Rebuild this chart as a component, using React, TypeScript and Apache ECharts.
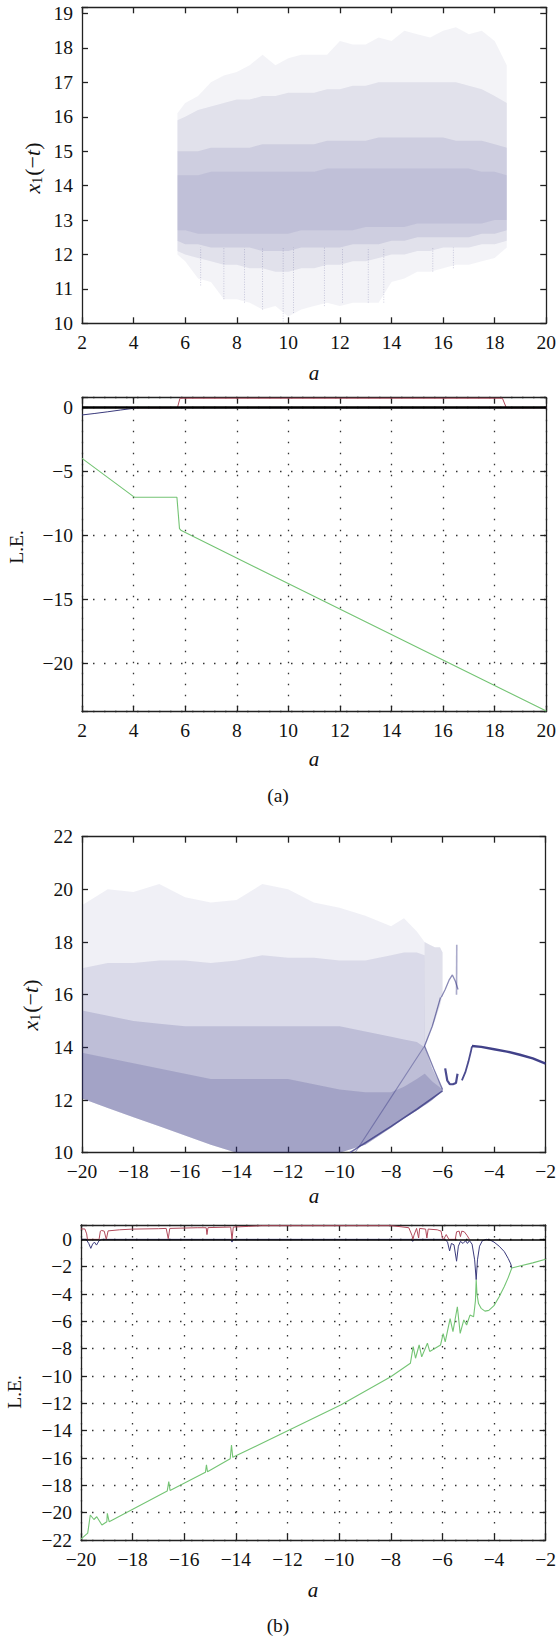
import React, { useEffect, useRef } from "react";
import * as echarts from "echarts";

const FONT = "'Liberation Serif', 'DejaVu Serif', serif";
const RED = "#b04a5c";
const BLUE = "#3a3a7c";
const GREEN = "#74c474";

// ---------- Panel (a) top: bifurcation cloud, a in [2,20] ----------
const bifA_a = [5.7, 6.0, 6.5, 7.0, 7.5, 8.0, 8.5, 9.0, 9.5, 10.0, 10.5, 11.0, 11.5, 12.0, 12.5, 13.0, 13.5, 14.0, 14.5, 15.0, 15.5, 16.0, 16.5, 17.0, 17.5, 18.0, 18.47];
const bifA_lower = [12.0, 11.8, 11.3, 11.2, 10.7, 10.7, 10.6, 10.4, 10.5, 10.2, 10.4, 10.5, 10.6, 10.5, 10.6, 10.6, 10.6, 11.2, 11.3, 11.5, 11.5, 11.6, 11.7, 11.7, 11.8, 11.9, 12.2];
const bifA_upper = [16.1, 16.4, 16.6, 17.0, 17.2, 17.3, 17.5, 17.8, 17.5, 17.7, 17.8, 17.8, 17.8, 18.2, 18.1, 18.1, 18.3, 18.2, 18.5, 18.4, 18.3, 18.5, 18.6, 18.4, 18.5, 18.2, 17.5];
const bifA_modLow = [12.1, 12.0, 11.9, 11.8, 11.7, 11.7, 11.6, 11.6, 11.5, 11.5, 11.6, 11.6, 11.7, 11.7, 11.8, 11.8, 11.9, 12.0, 12.0, 12.1, 12.1, 12.2, 12.2, 12.2, 12.3, 12.3, 12.4];
const bifA_modHigh = [15.9, 16.0, 16.2, 16.3, 16.4, 16.5, 16.5, 16.6, 16.6, 16.7, 16.7, 16.7, 16.8, 16.8, 16.9, 16.9, 17.0, 17.0, 17.0, 17.0, 17.0, 17.0, 17.0, 16.9, 16.8, 16.6, 16.4];
const bifA_denseLow = [12.4, 12.3, 12.3, 12.2, 12.2, 12.2, 12.2, 12.1, 12.1, 12.1, 12.2, 12.2, 12.2, 12.2, 12.3, 12.3, 12.3, 12.4, 12.4, 12.5, 12.5, 12.5, 12.5, 12.5, 12.6, 12.6, 12.7];
const bifA_denseHigh = [15.0, 15.0, 15.0, 15.1, 15.1, 15.1, 15.1, 15.2, 15.2, 15.2, 15.2, 15.2, 15.3, 15.3, 15.3, 15.3, 15.4, 15.4, 15.4, 15.4, 15.4, 15.4, 15.3, 15.3, 15.3, 15.2, 15.1];
const bifA_coreLow = [12.7, 12.7, 12.6, 12.6, 12.6, 12.6, 12.6, 12.6, 12.6, 12.6, 12.7, 12.7, 12.7, 12.7, 12.7, 12.8, 12.8, 12.8, 12.8, 12.9, 12.9, 12.9, 12.9, 12.9, 12.9, 13.0, 13.0];
const bifA_coreHigh = [14.3, 14.3, 14.3, 14.4, 14.4, 14.4, 14.4, 14.4, 14.4, 14.4, 14.4, 14.4, 14.5, 14.5, 14.5, 14.5, 14.5, 14.5, 14.5, 14.5, 14.5, 14.5, 14.5, 14.5, 14.4, 14.4, 14.3];
// vertical streaks below the cloud: a position, lowest value
const streakA_a = [6.6, 7.5, 8.3, 9.0, 9.8, 10.2, 11.4, 12.1, 13.1, 13.7, 15.6, 16.4];
const streakA_lo = [11.1, 10.7, 10.6, 10.4, 10.05, 10.3, 10.5, 10.6, 10.6, 10.6, 11.5, 11.6];

// ---------- Panel (a) bottom: Lyapunov exponents ----------
const leA_blue_a = [2, 2.5, 3, 3.5, 4, 4.1, 20];
const leA_blue = [-0.57, -0.45, -0.32, -0.18, -0.05, 0, 0];
const leA_red_a = [4, 5.7, 5.8, 18.3, 18.45, 20];
const leA_red = [0, 0, 0.74, 0.74, 0, 0];
const leA_green_a = [2, 4, 4.05, 5.68, 5.78, 5.85, 20];
const leA_green = [-3.96, -6.95, -7.0, -7.0, -9.45, -9.6, -23.7];

// ---------- Panel (b) top: bifurcation cloud, a in [-20,-2] ----------
const bifB_a = [-20, -19, -18, -17, -16, -15, -14, -13, -12, -11, -10, -9, -8, -7.5, -7, -6.7, -6.69, -6.4, -6.0];
const bifB_lower = [12.06, 11.7, 11.35, 11.0, 10.65, 10.3, 10.0, 10.0, 10.0, 10.0, 10.0, 10.3, 10.95, 11.3, 11.6, 11.8, 11.8, 12.0, 12.35];
const bifB_upper = [19.4, 20.0, 19.9, 20.2, 19.7, 19.5, 19.6, 20.2, 20.0, 19.5, 19.3, 19.0, 18.6, 18.9, 18.4, 18.0, 14.0, 13.2, 12.4];
const bifB_mod = [17.0, 17.2, 17.2, 17.3, 17.3, 17.2, 17.3, 17.5, 17.4, 17.4, 17.3, 17.3, 17.5, 17.6, 17.6, 17.5, 14.0, 13.2, 12.4];
const bifB_dense = [15.4, 15.2, 15.0, 14.9, 14.8, 14.8, 14.8, 14.8, 14.8, 14.8, 14.8, 14.6, 14.4, 14.3, 14.2, 14.0, 14.0, 13.2, 12.4];
const bifB_core = [13.8, 13.6, 13.4, 13.2, 13.0, 12.8, 12.8, 12.8, 12.8, 12.6, 12.4, 12.3, 12.3, 12.5, 12.8, 13.0, 13.0, 12.7, 12.4];
const lobe_a = [-6.7, -6.5, -6.3, -6.1, -6.0];
const lobe_low = [14.0, 14.6, 15.0, 15.6, 16.0];
const lobe_high = [18.0, 17.9, 17.8, 17.8, 17.6];
const edgeLow_a = [-9.6, -8, -7, -6.0];
const edgeLow = [10.0, 11.0, 11.65, 12.35];
const diag_a = [-9.4, -8, -6.7];
const diag = [10.0, 12.1, 14.05];
const notch_a = [-6.0, -6.35, -6.7, -6.4, -6.08];
const notch = [12.4, 13.2, 14.05, 14.8, 15.9];
const uBranch_a = [-5.9, -5.82, -5.72, -5.6, -5.48, -5.42];
const uBranch = [13.2, 12.75, 12.6, 12.6, 12.65, 13.0];
const rise_a = [-5.25, -5.12, -5.0, -4.9, -4.86];
const rise = [12.75, 13.05, 13.45, 13.85, 14.04];
const period_a = [-4.86, -4.5, -4.0, -3.5, -3.0, -2.5, -2.0];
const period = [14.05, 14.02, 13.93, 13.84, 13.72, 13.58, 13.38];
const squig_a = [-6.05, -5.9, -5.75, -5.62, -5.5, -5.4];
const squig = [15.9, 16.2, 16.55, 16.75, 16.5, 16.2];
const strip_a = [-5.46, -5.45];
const strip = [16.0, 17.9];

// ---------- Panel (b) bottom: Lyapunov exponents ----------
const leB_red_a = [-20, -19.85, -19.78, -19.75, -19.3, -19.25, -19.2, -19.1, -19.02, -18.95, -18.5, -18, -17, -16.7, -16.62, -16.56, -15.5, -15.15, -15.12, -15.08, -14.2, -14.15, -14.1, -13.5, -13, -8, -7.6, -7.3, -7.18, -7.14, -7.1, -7.0, -6.92, -6.88, -6.65, -6.6, -6.55, -6.2, -6.05, -6.0, -5.95, -5.85, -5.75, -5.5, -5.45, -5.35, -5.3, -5.25, -5.15, -5.05, -4.95];
const leB_red = [0.76, 0.76, 0.4, 0, 0, 0.6, 0.65, 0.6, 0, 0.62, 0.7, 0.75, 0.78, 0.8, 0.05, 0.8, 0.85, 0.85, 0.35, 0.86, 0.9, 0, 0.9, 0.95, 1.0, 1.0, 0.92, 0.85, 0.3, 0, 0.3, 0.8, 0.1, 0.8, 0.75, 0.1, 0.75, 0.7, 0.6, 0.1, 0, 0.35, 0, 0, 0.55, 0.6, 0.2, 0.6, 0.55, 0.3, 0];
const leB_blue_a = [-20, -19.8, -19.7, -19.62, -19.55, -19.48, -19.4, -19.3, -19.2, -14.2, -14.15, -14.1, -7.2, -7.15, -7.1, -5.9, -5.8, -5.72, -5.65, -5.55, -5.45, -5.38, -5.3, -5.2, -5.1, -5.03, -4.95, -4.85, -4.75, -4.69, -4.64, -4.56, -4.45, -4.3, -4.15, -4.0, -3.8, -3.6, -3.45, -3.35, -3.31];
const leB_blue = [0, 0, -0.3, -0.66, -0.35, -0.2, -0.42, -0.1, 0, 0, -0.2, 0, 0, -0.15, 0, 0, -0.2, -0.85, -0.3, -0.4, -1.6, -0.5, -0.15, -0.3, -0.1, -0.3, -0.1, -0.35, -1.5, -2.95, -1.5, -0.5, -0.1, 0, -0.05, -0.2, -0.5, -0.9, -1.4, -1.8, -2.1];
const leB_green_a = [-20, -19.97, -19.74, -19.64, -19.5, -19.39, -19.19, -19.0, -18.98, -18.91, -16.66, -16.6, -16.55, -15.18, -15.14, -15.1, -14.22, -14.17, -14.12, -9.94, -8.0, -7.24, -7.13, -7.04, -6.9, -6.8, -6.58, -6.49, -6.07, -5.97, -5.89, -5.7, -5.59, -5.42, -5.31, -5.17, -5.06, -4.93, -4.79, -4.72, -4.69, -4.66, -4.6, -4.5, -4.35, -4.2, -4.0, -3.8, -3.6, -3.45, -3.31, -3.0, -2.5, -2.0];
const leB_green = [-21.9, -21.88, -21.5, -20.17, -20.5, -20.3, -20.9, -20.66, -20.05, -20.66, -18.42, -17.73, -18.37, -17.05, -16.5, -17.0, -16.05, -15.05, -15.95, -12.12, -10.05, -9.07, -7.85, -8.7, -7.73, -8.6, -7.6, -8.2, -7.73, -6.9, -7.5, -5.8, -6.75, -4.93, -6.88, -5.9, -6.27, -5.54, -5.66, -4.5, -2.95, -4.0, -4.7, -5.05, -5.25, -5.2, -4.85, -4.2, -3.45, -2.8, -2.1, -1.95, -1.72, -1.46];

// ---------- axes ----------
const xRangeA = [2, 20];
const xRangeB = [-20, -2];
const yRange1 = [10, 19.18];
const yRange2 = [-23.75, 0.78];
const yRange3 = [10, 22];
const yRange4 = [-22, 1.05];

const grids = [
  { left: 82, top: 7.3, width: 466, height: 316 },
  { left: 82, top: 397.7, width: 466, height: 314 },
  { left: 82, top: 836.7, width: 466, height: 316 },
  { left: 81, top: 1225, width: 465, height: 315 },
];

function fmtNum(v: number) {
  const r = Math.round(v * 1000) / 1000;
  return r < 0 ? "\u2212" + Math.abs(r) : String(r);
}
function labelFmt(step: number) {
  return (v: number) => (Math.abs(v / step - Math.round(v / step)) < 1e-6 ? fmtNum(v) : "");
}
const AX = "#222";
function axes(i: number, xr: number[], yr: number[], xStep: number, yStep: number, yInterval: boolean, dotted: boolean) {
  const line = { show: true, onZero: false, lineStyle: { color: AX, width: 1.3 } };
  const tick = { show: true, inside: true, length: 6, lineStyle: { color: AX, width: 1.3 } };
  const split = { show: dotted, lineStyle: { type: [1.5, 9.5], color: "#333", width: 1.3 } };
  const lab = { color: "#111", fontSize: 19.5, fontFamily: FONT };
  const xa = [
    { type: "value", gridIndex: i, min: xr[0], max: xr[1], interval: xStep, position: "bottom", axisLine: line, axisTick: tick, splitLine: split, axisLabel: { ...lab, margin: 9, formatter: labelFmt(xStep) } },
    { type: "value", gridIndex: i, min: xr[0], max: xr[1], interval: xStep, position: "top", axisLine: line, axisTick: tick, splitLine: { show: false }, axisLabel: { show: false } },
  ];
  const yBase: any = { type: "value", gridIndex: i, min: yr[0], max: yr[1] };
  if (yInterval) yBase.interval = yStep;
  const ya = [
    { ...yBase, position: "left", axisLine: line, axisTick: tick, splitLine: split, axisLabel: { ...lab, margin: 9, formatter: labelFmt(yStep) } },
    { ...yBase, position: "right", axisLine: line, axisTick: tick, splitLine: { show: false }, axisLabel: { show: false } },
  ];
  return { xa, ya };
}

function band(i: number, xs: number[], lo: number[], hi: number[], fill: string) {
  return {
    type: "custom",
    xAxisIndex: i * 2,
    yAxisIndex: i * 2,
    clip: true,
    silent: true,
    data: xs.map((x, k) => [x, lo[k], hi[k]]),
    encode: { x: 0, y: [1, 2] },
    renderItem: (params: any, api: any) => {
      if (params.dataIndex !== 0) return null;
      const top = xs.map((x, k) => api.coord([x, hi[k]]));
      const bot = xs.map((x, k) => api.coord([x, lo[k]])).reverse();
      return { type: "polygon", shape: { points: top.concat(bot) }, style: { fill } };
    },
  };
}

function streaks(i: number, xs: number[], lo: number[], hiAt: number, stroke: string) {
  return {
    type: "custom",
    xAxisIndex: i * 2,
    yAxisIndex: i * 2,
    clip: true,
    silent: true,
    data: xs.map((x, k) => [x, lo[k]]),
    encode: { x: 0, y: 1 },
    renderItem: (params: any, api: any) => {
      const p0 = api.coord([api.value(0), api.value(1)]);
      const p1 = api.coord([api.value(0), hiAt]);
      return { type: "line", shape: { x1: p0[0], y1: p0[1], x2: p1[0], y2: p1[1] }, style: { stroke, lineWidth: 1, lineDash: [1, 1.5] } };
    },
  };
}

function line(i: number, xs: number[], ys: number[], color: string, width: number, extra: any = {}) {
  return {
    type: "line",
    xAxisIndex: i * 2,
    yAxisIndex: i * 2,
    data: xs.map((x, k) => [x, ys[k]]),
    showSymbol: false,
    symbol: "none",
    clip: true,
    silent: true,
    lineStyle: { color, width },
    ...extra,
  };
}

function zeroLine(width: number) {
  return {
    markLine: {
      silent: true,
      symbol: ["none", "none"],
      label: { show: false },
      lineStyle: { color: "#000", width, type: "solid" },
      data: [{ yAxis: 0 }],
    },
  };
}

function text(x: number, y: number, t: string, opts: any = {}) {
  return {
    type: "text",
    x,
    y,
    rotation: opts.rotation || 0,
    style: {
      text: t,
      fill: "#111",
      fontSize: opts.fontSize || 19.5,
      fontFamily: FONT,
      fontStyle: opts.italic ? "italic" : "normal",
      align: "center",
      verticalAlign: "middle",
      rich: opts.rich,
    },
  };
}

const xName = {
  i: { fontStyle: "italic", fontSize: 22, fontFamily: FONT, fill: "#111" },
  s: { fontSize: 14, fontFamily: FONT, fill: "#111", padding: [10, 1, 0, 0] },
  n: { fontSize: 22, fontFamily: FONT, fill: "#111" },
};
const xNameText = "{i|x}{s|1}{n|(\u2212}{i|t}{n|)}";

export default function App() {
  const ref = useRef<HTMLDivElement>(null);
  useEffect(() => {
    if (!ref.current) return;
    const chart = echarts.init(ref.current, undefined, { renderer: "svg" });
    const a1 = axes(0, xRangeA, yRange1, 2, 1, true, false);
    const a2 = axes(1, xRangeA, yRange2, 2, 5, false, true);
    const a3 = axes(2, xRangeB, yRange3, 2, 2, true, false);
    const a4 = axes(3, xRangeB, yRange4, 2, 2, true, true);
    const P = (al: number) => `rgba(44,44,124,${al})`;
    const series: any[] = [
      band(0, bifA_a, bifA_lower, bifA_upper, P(0.06)),
      band(0, bifA_a, bifA_modLow, bifA_modHigh, P(0.09)),
      band(0, bifA_a, bifA_denseLow, bifA_denseHigh, P(0.1)),
      band(0, bifA_a, bifA_coreLow, bifA_coreHigh, P(0.08)),
      streaks(0, streakA_a, streakA_lo, 12.2, P(0.22)),

      line(1, leA_blue_a, leA_blue, BLUE, 1),
      line(1, leA_red_a, leA_red, RED, 1),
      line(1, leA_green_a, leA_green, GREEN, 1.1, zeroLine(2.6)),

      band(2, bifB_a, bifB_lower, bifB_upper, P(0.07)),
      band(2, bifB_a, bifB_lower, bifB_mod, P(0.11)),
      band(2, bifB_a, bifB_lower, bifB_dense, P(0.16)),
      band(2, bifB_a, bifB_lower, bifB_core, P(0.18)),
      band(2, lobe_a, lobe_low, lobe_high, P(0.15)),
      line(2, edgeLow_a, edgeLow, P(0.7), 1.6),
      line(2, diag_a, diag, P(0.4), 1.1),
      line(2, notch_a, notch, P(0.6), 1.3),
      line(2, uBranch_a, uBranch, P(0.85), 2.2),
      line(2, rise_a, rise, P(0.85), 1.8),
      line(2, period_a, period, P(0.9), 2.4),
      line(2, squig_a, squig, P(0.55), 1.3),
      line(2, strip_a, strip, P(0.4), 1.6),

      line(3, leB_blue_a, leB_blue, BLUE, 1),
      line(3, leB_red_a, leB_red, RED, 1),
      line(3, leB_green_a, leB_green, GREEN, 1.1, zeroLine(1.6)),
    ];
    const graphic = [
      text(32, 168, xNameText, { rotation: Math.PI / 2, rich: xName }),
      text(314, 373, "a", { italic: true, fontSize: 21 }),
      text(16, 547, "L.E.", { rotation: Math.PI / 2 }),
      text(314, 759, "a", { italic: true, fontSize: 21 }),
      text(278, 795, "(a)"),
      text(30, 1005, xNameText, { rotation: Math.PI / 2, rich: xName }),
      text(314, 1196, "a", { italic: true, fontSize: 21 }),
      text(14, 1392, "L.E.", { rotation: Math.PI / 2 }),
      text(313, 1590, "a", { italic: true, fontSize: 21 }),
      text(278, 1625, "(b)"),
    ];
    chart.setOption({
      animation: false,
      backgroundColor: "#fff",
      grid: grids.map((g) => ({ ...g, containLabel: false })),
      xAxis: [...a1.xa, ...a2.xa, ...a3.xa, ...a4.xa],
      yAxis: [...a1.ya, ...a2.ya, ...a3.ya, ...a4.ya],
      series,
      graphic,
    });
    return () => chart.dispose();
  }, []);
  return <div ref={ref} style={{ position: "absolute", left: 0, top: 0, width: 559, height: 1636 }} />;
}
